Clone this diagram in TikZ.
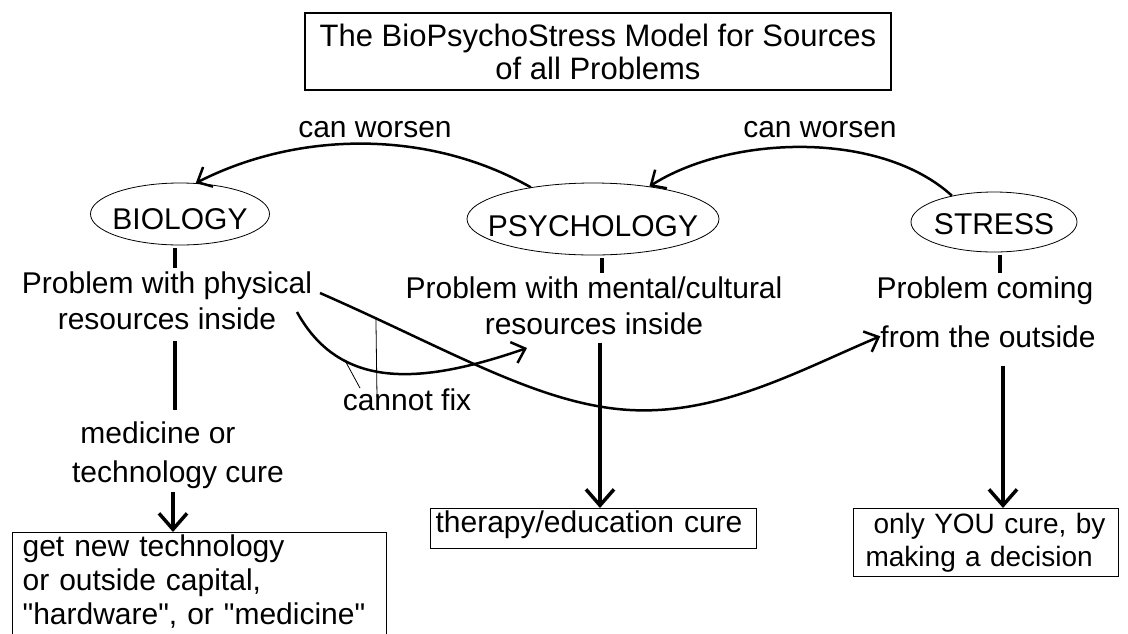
\documentclass[tikz,border=0pt]{standalone}
\usepackage{fontspec}
\setmainfont{Liberation Sans}[Ligatures=TeXOff]
\usetikzlibrary{shapes.geometric,arrows.meta}
\newcommand{\diagfont}{\fontsize{30}{36}\selectfont}

\begin{document}
\begin{tikzpicture}[x=1pt,y=-1pt,
		txt/.style={font=\diagfont,inner sep=0pt,anchor=base,align=center},
		oval/.style={ellipse,draw,line width=0.8pt,inner sep=0pt,font=\diagfont},
		curebox/.style={draw,line width=1.2pt,font=\diagfont,align=left,anchor=north west,inner ysep=2pt},
		stub/.style={line width=3.5pt},
		down/.style={line width=3.5pt,-{Straight Barb[length=16pt,width=28pt]}},
		swoop/.style={line width=2.5pt,-{Straight Barb[length=12pt,width=22pt]}},
		pointer/.style={line width=0.8pt}]
			\clip (0,0) rectangle (1128,633);
			\fill[white] (0,0) rectangle (1128,633);
			\draw (598,51.5) node [draw,line width=1.2pt,inner sep=0pt,align=center,font=\fontsize{31}{33}\selectfont,minimum width=586pt,minimum height=77pt] (title) {The BioPsychoStress Model for Sources\\of all Problems};
			\draw (180,214) node [oval,minimum width=179pt,minimum height=62pt,text height=31pt] (bio) {\makebox[0pt]{BIOLOGY}};
			\draw (593,219) node [oval,minimum width=252pt,minimum height=72pt,text height=35pt] (psy) {\makebox[0pt]{PSYCHOLOGY}};
			\draw (994,222) node [oval,minimum width=166pt,minimum height=60pt,text height=25pt] (str) {\makebox[0pt]{STRESS}};
			\draw (375,137) node [txt] (worseA) {can worsen};
			\draw (820,137) node [txt] (worseB) {can worsen};
			\draw (167,329) node [txt] (biotxt) {Problem with physical\\resources inside};
			\draw (594,334) node [txt] (psytxt) {Problem with mental/cultural\\resources inside};
			\draw (985,298) node [txt] (strtxt) {Problem coming};
			\draw (988,347) node [txt] (fromtxt) {from the outside};
			\draw (407,410) node [txt] (nofix) {cannot fix};
			\draw (158,443) node [txt] (medtxt) {medicine or};
			\draw (178,482) node [txt] (techtxt) {technology cure};
			\draw (12,532) node [curebox,inner xsep=10pt,text width=354pt,font=\fontsize{30}{34}\selectfont] (getbox) {get new technology\\or outside capital,\\"hardware", or "medicine"\\\mbox{}};
			\draw (430,508) node [curebox,inner xsep=5pt,inner ysep=0pt,text width=316pt,minimum height=40pt,text depth=14pt] (therapy) {therapy/education cure};
			\draw (853,508) node [curebox,inner xsep=12pt,inner ysep=0pt,text width=241pt,minimum height=68pt,font=\fontsize{28}{33}\selectfont] (decide) {\hspace*{8pt}only YOU cure, by\\making a decision};
			\coordinate (fixA) at (297,312);
			\coordinate (fixB) at (320,293);
			\coordinate (fixC) at (527,348);
			\path[stub,shorten <=3pt,shorten >=3pt]
				([xshift=-5pt]bio.south) edge ([xshift=-5pt]bio.south |- biotxt.north)
				([xshift=9pt]psy.south) edge ([xshift=9pt]psy.south |- psytxt.north)
				([xshift=6pt]str.south) edge ([xshift=6pt]str.south |- strtxt.north);
			\draw[stub,shorten <=11pt,shorten >=11pt] ([xshift=8pt]biotxt.south) -- ([xshift=8pt]biotxt.south |- medtxt.north);
			\draw[down,shorten <=4pt] ([xshift=-5pt]techtxt.south) -- ([xshift=-5pt]techtxt.south |- getbox.north);
			\draw[down,shorten <=8pt] ([xshift=6pt]psytxt.south) -- ([xshift=6pt]psytxt.south |- therapy.north);
			\draw[down,shorten <=18pt] ([xshift=15pt]fromtxt.south) -- ([xshift=15pt]fromtxt.south |- decide.north);
			\draw[swoop] (psy.153) .. controls (430,130) and (300,130) .. (bio.63);
			\draw[swoop] (str.148) .. controls (880,130) and (730,135) .. (psy.30);
			\draw[swoop] (fixA) .. controls (340,390) and (420,385) .. (fixC) coordinate[pos=0.3] (hitA);
			\draw[swoop] (fixB) .. controls (450,350) and (540,405) .. (630,410) coordinate[pos=0.15] (hitB) .. controls (720,415) and (800,370) .. (fromtxt.west);
			\draw[pointer] (hitA) -- ([xshift=-47pt]nofix.north);
			\draw[pointer] (hitB) -- ([xshift=-30pt,yshift=-9pt]nofix.north);
		\end{tikzpicture}
\end{document}
